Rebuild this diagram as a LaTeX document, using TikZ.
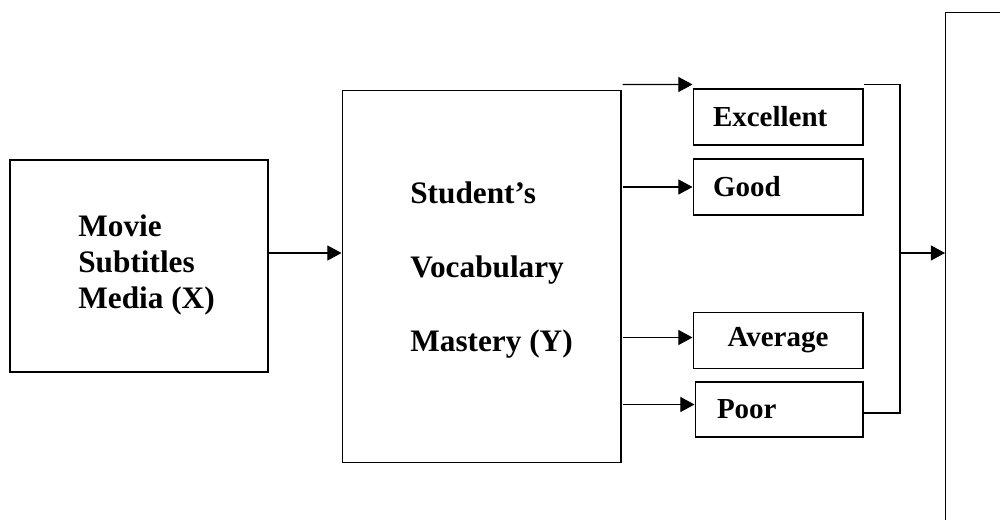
\documentclass[tikz,border=0pt]{standalone}
\usepackage{fontspec}
\setmainfont{Liberation Serif}
\usetikzlibrary{arrows.meta,positioning}

\tikzset{
  box/.style={draw, line width=0.6pt, inner sep=0pt},
  arr/.style={-{Triangle[length=8pt,width=8.5pt]}, line width=0.6pt},
  bigtext/.style={font=\fontsize{17.8}{20.5}\selectfont\bfseries, align=left, inner sep=0pt},
  widetext/.style={font=\fontsize{17.8}{42.2}\selectfont\bfseries, align=left, inner sep=0pt},
  grade/.style={box, font=\fontsize{16.5}{19}\selectfont\bfseries, align=left,
    text width=2.6cm, inner xsep=0.4cm, minimum height=1.12cm},
}

\begin{document}
\begin{tikzpicture}[x=0.02cm, y=-0.02cm]
  \clip (0,0) rectangle (1000,520);

  % variables
  \node[box, minimum width=5.16cm, minimum height=4.24cm] (media) at (139,266) {};
  \node[bigtext, anchor=west] (mediatext) at (78,265) {Movie\\Subtitles\\Media (X)};
  \node[box, minimum width=5.58cm, minimum height=7.46cm] (mastery) at (481.5,276.5) {};
  \node[widetext, anchor=west] (masterytext) at (410,270) {Student’s\\Vocabulary\\Mastery (Y)};

  % categories
  \node[grade] (excellent) at (778,117) {Excellent};
  \node[grade] (good) at (778,187) {Good};
  \node[grade, align=center] (average) at (778,340.5) {Average};
  \node[grade, text width=2.48cm, inner xsep=0.44cm, minimum height=1.1cm] (poor) at (779,409.5) {Poor};

  \node[box, anchor=north west, minimum width=2.4cm, minimum height=11.2cm] (result) at (945,12) {};
  \coordinate (join) at (900,253);

  % connectors
  \draw[arr] ([yshift=0.26cm]media.east) -- ([yshift=0.26cm]media.east -| mastery.west);
  \draw[arr] ([shift={(1,-5)}]mastery.north east) -- ([shift={(0,-4)}]excellent.north west);
  \draw[arr] ([xshift=0.02cm]mastery.east |- good.west) -- (good.west);
  \draw[arr] ([xshift=0.02cm,yshift=0.06cm]mastery.east |- average.west) -- ([yshift=0.06cm]average.west);
  \draw[arr] ([xshift=0.02cm,yshift=0.1cm]mastery.east |- poor.west) -- ([yshift=0.1cm]poor.west);

  \draw[line width=0.6pt] ([yshift=0.08cm]excellent.north east) -| (join)
    |- ([yshift=-0.07cm]poor.east);
  \draw[arr] (join) -- (join -| result.west);
\end{tikzpicture}
\end{document}
